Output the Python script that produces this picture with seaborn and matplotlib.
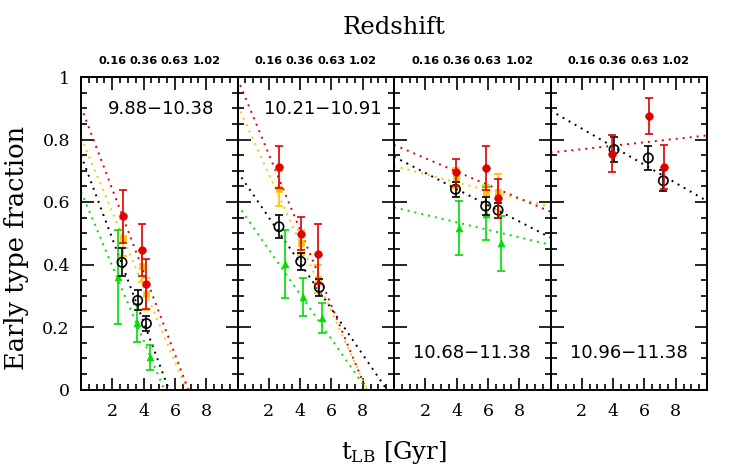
import numpy as np
import pandas as pd
import matplotlib
matplotlib.use("Agg")
import matplotlib.pyplot as plt
from matplotlib.ticker import MultipleLocator, FixedLocator, FixedFormatter
import seaborn as sns

# ---------------- data ----------------
panel_labels = ["9.88\u221210.38", "10.21\u221210.91", "10.68\u221211.38", "10.96\u221211.38"]
label_at_top = [True, True, False, False]
label_xfrac = [0.51, 0.545, 0.50, 0.50]

redshift_ticks_t = [2, 4, 6, 8]
redshift_labels = ["0.16", "0.36", "0.63", "1.02"]
ytick_vals = [0, 0.2, 0.4, 0.6, 0.8, 1.0]
ytick_labels = ["0", "0.2", "0.4", "0.6", "0.8", "1"]

# panel 1
p1_red_t = [2.66, 3.88, 4.15]
p1_red_f = [0.554, 0.447, 0.338]
p1_red_e = [0.085, 0.083, 0.079]
p1_orange_t = [2.66, 3.88, 4.15]
p1_orange_f = [0.486, 0.394, 0.306]
p1_orange_e = [0.060, 0.050, 0.050]
p1_black_t = [2.62, 3.62, 4.18]
p1_black_f = [0.407, 0.285, 0.211]
p1_black_e = [0.045, 0.032, 0.023]
p1_green_t = [2.34, 3.56, 4.41]
p1_green_f = [0.359, 0.213, 0.103]
p1_green_e = [0.150, 0.062, 0.040]

# panel 2
p2_red_t = [2.65, 4.04, 5.16]
p2_red_f = [0.711, 0.499, 0.434]
p2_red_e = [0.067, 0.053, 0.095]
p2_orange_t = [2.65, 4.04, 5.16]
p2_orange_f = [0.643, 0.470, 0.355]
p2_orange_e = [0.055, 0.040, 0.045]
p2_black_t = [2.65, 4.04, 5.23]
p2_black_f = [0.521, 0.410, 0.327]
p2_black_e = [0.037, 0.028, 0.028]
p2_green_t = [3.04, 4.19, 5.40]
p2_green_f = [0.402, 0.296, 0.228]
p2_green_e = [0.110, 0.060, 0.048]

# panel 3
p3_red_t = [3.93, 5.86, 6.65]
p3_red_f = [0.695, 0.710, 0.612]
p3_red_e = [0.043, 0.070, 0.062]
p3_orange_t = [3.93, 5.86, 6.65]
p3_orange_f = [0.676, 0.628, 0.631]
p3_orange_e = [0.032, 0.027, 0.058]
p3_black_t = [3.93, 5.86, 6.65]
p3_black_f = [0.641, 0.587, 0.574]
p3_black_e = [0.024, 0.030, 0.024]
p3_green_t = [4.15, 5.86, 6.82]
p3_green_f = [0.516, 0.563, 0.468]
p3_green_e = [0.086, 0.085, 0.088]

# panel 4
p4_red_t = [3.95, 6.31, 7.27]
p4_red_f = [0.755, 0.875, 0.712]
p4_red_e = [0.060, 0.058, 0.070]
p4_black_t = [4.06, 6.25, 7.21]
p4_black_f = [0.768, 0.741, 0.668]
p4_black_e = [0.039, 0.039, 0.034]

# linear fits (intercept, slope) per panel
fit_red_a = [0.905, 0.995, 0.783, 0.758]
fit_red_b = [-0.132, -0.121, -0.0214, 0.0055]
fit_orange_a = [0.807, 0.910, 0.715, None]
fit_orange_b = [-0.1196, -0.110, -0.013, None]
fit_black_a = [0.750, 0.697, 0.745, 0.893]
fit_black_b = [-0.1335, -0.0731, -0.0259, -0.029]
fit_green_a = [0.633, 0.591, 0.583, None]
fit_green_b = [-0.119, -0.0716, -0.012, None]

# ---------------- style ----------------
sns.set_style("ticks")
plt.rcParams["font.family"] = ["DejaVu Serif", "DejaVu Sans"]
plt.rcParams["mathtext.fontset"] = "dejavuserif"
plt.rcParams["text.color"] = "black"
plt.rcParams["axes.labelcolor"] = "black"
plt.rcParams["xtick.color"] = "black"
plt.rcParams["ytick.color"] = "black"
plt.rcParams["axes.edgecolor"] = "black"

COL = {"red": "#e00000", "orange": "#ffc400", "black": "#000000", "green": "#00dd00"}

rows = []
def add(panel, series, t, f, e):
    for ti, fi, ei in zip(t, f, e):
        rows.append(dict(panel=panel, series=series, t=ti, f=fi, e=ei))

add(0, "red", p1_red_t, p1_red_f, p1_red_e)
add(0, "orange", p1_orange_t, p1_orange_f, p1_orange_e)
add(0, "black", p1_black_t, p1_black_f, p1_black_e)
add(0, "green", p1_green_t, p1_green_f, p1_green_e)
add(1, "red", p2_red_t, p2_red_f, p2_red_e)
add(1, "orange", p2_orange_t, p2_orange_f, p2_orange_e)
add(1, "black", p2_black_t, p2_black_f, p2_black_e)
add(1, "green", p2_green_t, p2_green_f, p2_green_e)
add(2, "red", p3_red_t, p3_red_f, p3_red_e)
add(2, "orange", p3_orange_t, p3_orange_f, p3_orange_e)
add(2, "black", p3_black_t, p3_black_f, p3_black_e)
add(2, "green", p3_green_t, p3_green_f, p3_green_e)
add(3, "red", p4_red_t, p4_red_f, p4_red_e)
add(3, "black", p4_black_t, p4_black_f, p4_black_e)
df = pd.DataFrame(rows)

fits = {"red": (fit_red_a, fit_red_b), "orange": (fit_orange_a, fit_orange_b),
        "black": (fit_black_a, fit_black_b), "green": (fit_green_a, fit_green_b)}

fig, axes = plt.subplots(1, 4, figsize=(7.47, 4.70), dpi=100, sharey=True)
fig.subplots_adjust(left=81/747, right=707/747, bottom=(470-389.5)/470, top=(470-77)/470, wspace=0)

tgrid = np.linspace(0, 10, 200)
order = ["green", "orange", "black", "red"]
for i, ax in enumerate(axes):
    # fit lines
    for s in ["green", "black", "orange", "red"]:
        a, b = fits[s][0][i], fits[s][1][i]
        if a is None:
            continue
        sns.lineplot(x=tgrid, y=a + b * tgrid, ax=ax, color=COL[s],
                     linestyle=(0, (1, 2.6)), linewidth=1.4, zorder=1)
    sub = df[df.panel == i]
    for z, s in enumerate(order):
        d = sub[sub.series == s]
        if d.empty:
            continue
        ax.errorbar(d.t, d.f, yerr=d.e, fmt="none", ecolor=COL[s],
                    elinewidth=1.2, capsize=3, capthick=1.2, zorder=2 + 2 * z)
        if s == "black":
            sns.scatterplot(data=d, x="t", y="f", ax=ax, marker="o", s=45,
                            facecolors="none", edgecolor="black", linewidth=1.2,
                            zorder=3 + 2 * z)
        elif s == "red":
            sns.scatterplot(data=d, x="t", y="f", ax=ax, marker="o", s=30,
                            color=COL[s], edgecolor=COL[s], linewidth=0.5, zorder=3 + 2 * z)
        elif s == "orange":
            sns.scatterplot(data=d, x="t", y="f", ax=ax, marker="s", s=18,
                            color=COL[s], edgecolor=COL[s], linewidth=0.5, zorder=3 + 2 * z)
        else:
            sns.scatterplot(data=d, x="t", y="f", ax=ax, marker="^", s=24,
                            color=COL[s], edgecolor=COL[s], linewidth=0.5, zorder=3 + 2 * z)

    ax.set_xlim(0, 10)
    ax.set_ylim(0, 1)
    ax.set_xlabel("")
    ax.set_ylabel("")
    ax.xaxis.set_major_locator(FixedLocator([0, 2, 4, 6, 8, 10]))
    ax.xaxis.set_major_formatter(FixedFormatter(["", "2", "4", "6", "8", ""]))
    ax.xaxis.set_minor_locator(MultipleLocator(0.5))
    ax.yaxis.set_major_locator(FixedLocator(ytick_vals))
    ax.yaxis.set_major_formatter(FixedFormatter(ytick_labels))
    ax.yaxis.set_minor_locator(MultipleLocator(0.05))
    ax.tick_params(which="both", direction="in", top=True, right=True,
                   bottom=True, left=True, width=1.2, colors="black")
    ax.tick_params(which="major", length=9)
    ax.tick_params(which="minor", length=4.5)
    ax.tick_params(axis="x", which="major", labelsize=12.5, pad=10)
    ax.tick_params(axis="y", which="major", labelsize=12.5, pad=8)
    if i > 0:
        ax.tick_params(axis="y", labelleft=False)
    for sp in ax.spines.values():
        sp.set_linewidth(1.4)
        sp.set_color("black")

    sec = ax.secondary_xaxis("top")
    sec.set_xticks(redshift_ticks_t)
    sec.set_xticklabels(redshift_labels, fontfamily="DejaVu Sans", fontweight="bold",
                        fontsize=8.2, color="black")
    sec.tick_params(length=0, pad=8, colors="black")
    sec.spines["top"].set_visible(False)

    ty = 0.896 if label_at_top[i] else 0.118
    ax.text(label_xfrac[i], ty, panel_labels[i], transform=ax.transAxes,
            ha="center", va="center", fontsize=13, fontfamily="DejaVu Sans", color="black")

fig.text(394/747, 1 - 27/470, "Redshift", ha="center", va="center", fontsize=17.5, color="black")
fig.text(394/747, 1 - 452/470, r"t$_{\rm LB}$ [Gyr]", ha="center", va="center", fontsize=17.5, color="black")
fig.text(17/747, 1 - 248/470, "Early type fraction", rotation=90, ha="center", va="center",
         fontsize=18.5, color="black")

fig.savefig("out.png", dpi=100)
